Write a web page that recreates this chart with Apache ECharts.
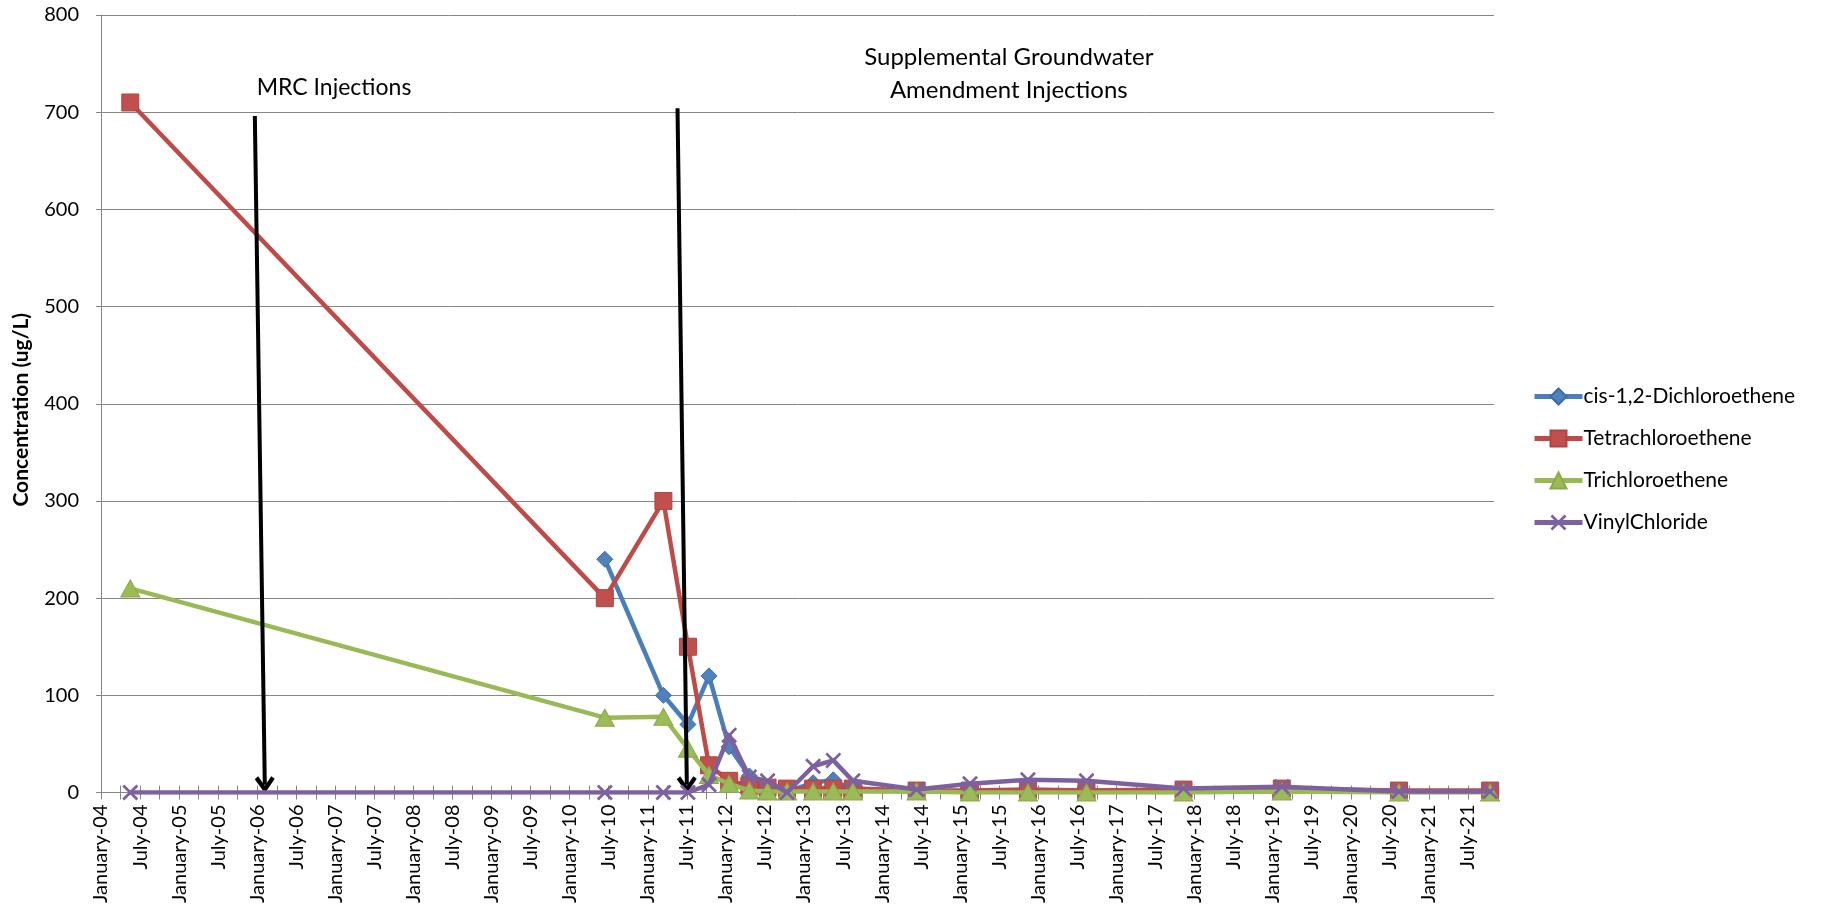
<!DOCTYPE html>
<html>
<head>
<meta charset="utf-8">
<script src="https://cdn.jsdelivr.net/npm/echarts@6/dist/echarts.min.js"></script>
<style>
  html, body { margin: 0; padding: 0; background: #ffffff; }
  #chart { width: 1822px; height: 917px; }
</style>
</head>
<body>
<div id="chart"></div>
<script>
// ---- data ----
const sampleDates = ['2004-05-16','2010-06-13','2011-03-13','2011-07-06','2011-10-13','2012-01-16','2012-04-19','2012-07-13','2012-10-13','2013-02-13','2013-05-16','2013-08-16','2014-06-10','2015-02-16','2015-11-13','2016-08-13','2017-11-10','2019-02-13','2020-08-13','2021-10-13'];
const cisDCE = [null, 240, 100, 70, 120, 47, 17, 3, 1, 10, 13, 2, 1, 1, 1, 1, 1, 2, 1, 1];
const PCE    = [710, 200, 300, 150, 28, 12, 7, 5, 4, 4, 4, 4, 2, 2, 3, 2, 3, 4, 2, 2];
const TCE    = [210, 77, 78, 45, 18, 9, 2, 1, 1, 1, 1, 1, 1, 0, 0, 0, 0, 1, 0, 0];
const VC     = [0, 0, 0, 0, 8, 59, 16, 12, 0, 27, 33, 12, 3, 9, 13, 12, 4, 6, 1, 1];
const seriesNames = ['cis-1,2-Dichloroethene', 'Tetrachloroethene', 'Trichloroethene', 'VinylChloride'];
const axisStart = '2004-01-01';
const axisEnd = '2021-11-01';
const monthNames = ['January', 'July'];
const yMin = 0, yMax = 800, yStep = 100;
const yTitle = 'Concentration (ug/L)';
// annotations: arrows [start date, start value, end date, end value], texts [date, value, text]
const arrows = [
  ['2005-12-20', 696, '2006-02-06', 8],
  ['2011-05-18', 704, '2011-07-01', 8]
];
const notes = [
  ['2006-12-25', 725, 'MRC Injections'],
  ['2015-08-15', 740, 'Supplemental Groundwater\nAmendment Injections']
];

// ---- helpers ----
function monthIndex(s) {
  const p = s.split('-').map(Number);
  const b = axisStart.split('-').map(Number);
  return (p[0] - b[0]) * 12 + (p[1] - b[1]) + (p[2] - 1) / 30;
}
const xMax = monthIndex(axisEnd);
const labelVals = [], tickVals = [];
for (let m = 0; m <= xMax; m += 3) { tickVals.push(m); if (m % 6 === 0) labelVals.push(m); }
function fmtMonth(v) {
  const y = 2004 + Math.floor(v / 12);
  const half = Math.round(v % 12) === 0 ? 0 : 1;
  return monthNames[half] + '-' + String(y % 100).padStart(2, '0');
}
function pairs(vals) {
  const out = [];
  sampleDates.forEach((d, i) => { if (vals[i] !== null) out.push([monthIndex(d), vals[i]]); });
  return out;
}

const FONT = 'Lato';
const noteFontSizes = [23, 24];
const xPath = 'path://M0,1.2 L1.2,0 L5,3.8 L8.8,0 L10,1.2 L6.2,5 L10,8.8 L8.8,10 L5,6.2 L1.2,10 L0,8.8 L3.8,5 Z';
const chevron = 'path://M5,0 L10,7.2 L8.3,8.6 L5,3.8 L1.7,8.6 L0,7.2 Z';

const styles = [
  { line: '#4A7EBB', fill: '#4F81BD', border: '#3A6DA8', symbol: 'diamond', size: 16 },
  { line: '#BE4B48', fill: '#C0504D', border: '#B04542', symbol: 'rect', size: 17 },
  { line: '#98B954', fill: '#9BBB59', border: '#8AAA48', symbol: 'triangle', size: [19, 17] },
  { line: '#7D60A0', fill: '#7D60A0', border: '#7D60A0', symbol: xPath, size: 16 }
];
const dataSets = [cisDCE, PCE, TCE, VC];

const series = dataSets.map((vals, i) => ({
  name: seriesNames[i],
  type: 'line',
  data: pairs(vals),
  symbol: styles[i].symbol,
  symbolSize: styles[i].size,
  lineStyle: { color: styles[i].line, width: 4.5 },
  itemStyle: { color: styles[i].fill, borderColor: styles[i].border, borderWidth: i === 3 ? 0 : 1 },
  z: 2 + i
}));

series.push({
  name: 'annotations',
  type: 'line',
  data: [],
  silent: true,
  z: 10,
  markLine: {
    silent: true,
    symbol: ['none', chevron],
    symbolSize: [20, 17],
    label: { show: false },
    lineStyle: { color: '#000000', width: 4, type: 'solid' },
    data: arrows.map(a => [
      { coord: [monthIndex(a[0]), a[1]] },
      { coord: [monthIndex(a[2]), a[3]] }
    ])
  },
  markPoint: {
    silent: true,
    symbol: 'rect',
    symbolSize: 1,
    itemStyle: { color: 'rgba(0,0,0,0)' },
    label: {
      show: true, position: 'inside', color: '#000', fontFamily: FONT,
      lineHeight: 33, align: 'center', verticalAlign: 'middle'
    },
    data: notes.map((n, i) => ({
      coord: [monthIndex(n[0]), n[1]], value: n[2],
      label: { formatter: n[2], fontSize: noteFontSizes[i] }
    }))
  }
});

const chart = echarts.init(document.getElementById('chart'), null, { renderer: 'canvas' });
chart.setOption({
  animation: false,
  backgroundColor: '#ffffff',
  textStyle: { fontFamily: FONT },
  grid: { left: 101, right: 328, top: 15, bottom: 124.5, containLabel: false },
  legend: {
    orient: 'vertical',
    left: 1527,
    top: 381,
    itemWidth: 48,
    itemHeight: 20,
    itemGap: 21,
    data: seriesNames,
    lineStyle: { width: 5 },
    textStyle: { fontFamily: FONT, fontSize: 21, color: '#000', lineHeight: 21, padding: [0, 0, 0, -4] }
  },
  xAxis: [{
    type: 'value',
    min: 0,
    max: xMax,
    splitLine: { show: false },
    axisLine: { show: true, lineStyle: { color: '#868686', width: 1 } },
    axisTick: { show: true, length: 7, lineStyle: { color: '#868686' }, customValues: tickVals },
    axisLabel: {
      customValues: labelVals,
      rotate: 90,
      margin: 12,
      fontFamily: FONT,
      fontSize: 20,
      color: '#000',
      padding: [9, 0, 0, 0],
      formatter: v => fmtMonth(v)
    }
  }, {
    type: 'value',
    min: 0,
    max: xMax,
    position: 'bottom',
    splitLine: { show: false },
    axisLine: { show: false },
    axisTick: { show: true, inside: true, length: 7, lineStyle: { color: '#868686' }, customValues: tickVals },
    axisLabel: { show: false }
  }],
  yAxis: {
    type: 'value',
    min: yMin,
    max: yMax,
    interval: yStep,
    name: yTitle,
    nameLocation: 'middle',
    nameGap: 69,
    nameTextStyle: { fontFamily: FONT, fontSize: 21, fontWeight: 'bold', color: '#000', padding: [0, 12, 0, 0] },
    axisLine: { show: true, lineStyle: { color: '#868686' } },
    axisTick: { show: true, length: 5, lineStyle: { color: '#868686' } },
    axisLabel: { margin: 22, fontFamily: FONT, fontSize: 20, color: '#000' },
    splitLine: { show: true, lineStyle: { color: '#868686', width: 1 } }
  },
  series: series
});
</script>
</body>
</html>
